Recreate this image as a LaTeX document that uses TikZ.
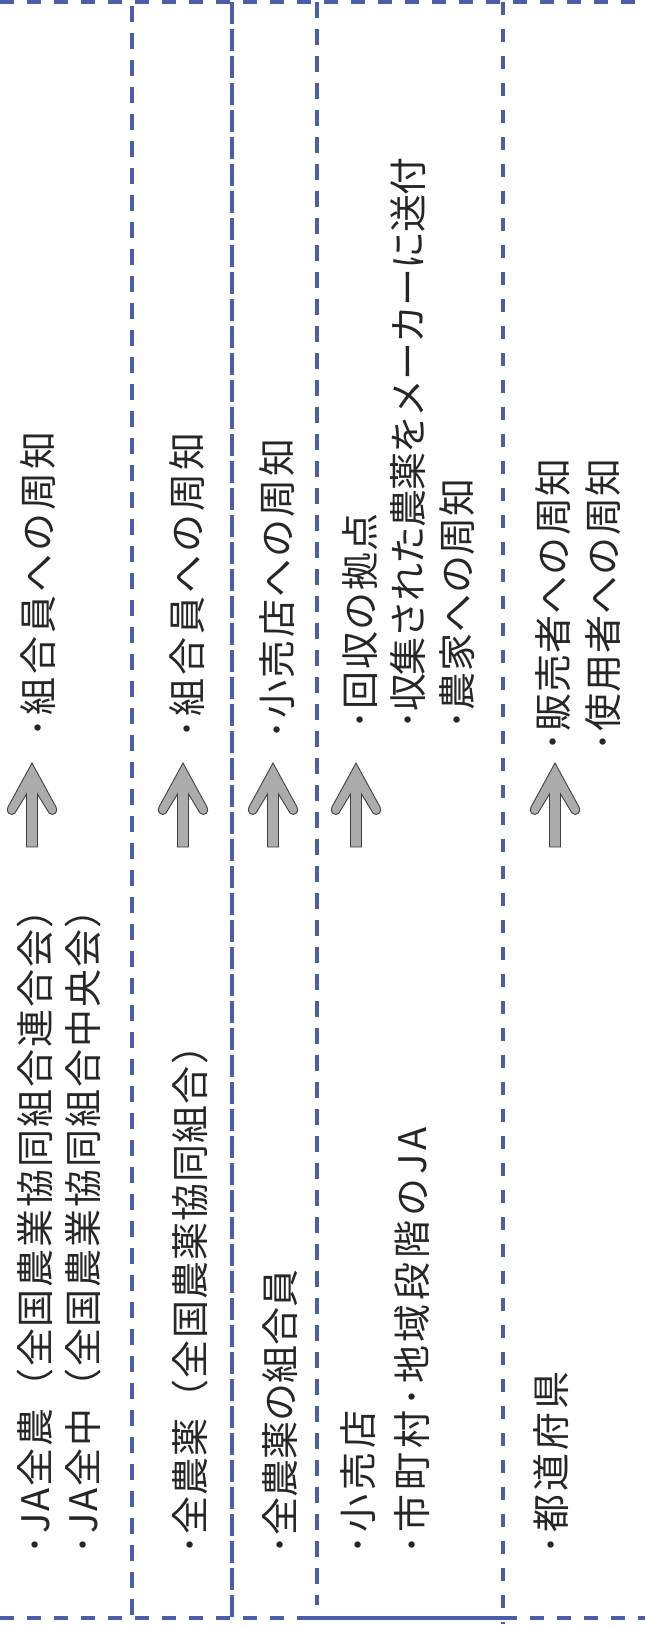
\documentclass[tikz,border=0pt]{standalone}
\usepackage{fontspec}
\setmainfont{Noto Sans CJK JP}
\usetikzlibrary{positioning}
\definecolor{rulebl}{RGB}{74,94,170}
\definecolor{arrowgr}{RGB}{172,172,172}
\tikzset{
  vrule/.style={rulebl, line width=3.5pt, dash pattern=on 16pt off 11pt},
  hrule/.style={rulebl, line width=3.2pt, dash pattern=on 14pt off 13pt},
  txt/.style={rotate=90, anchor=west, inner sep=0pt, text=black!85,
    font=\fontsize{38}{40}\selectfont\addfontfeature{LetterSpace=#1}},
  txt/.default=0,
  pics/uparrow/.style={code={
    \draw[draw=black!75, fill=arrowgr, line width=0.9pt]
      (0,0) -- (24,44) .. controls (27,49) and (21,54) .. (17,50)
      -- (5.5,31) -- (5.5,84) -- (-5.5,84) -- (-5.5,31)
      -- (-17,50) .. controls (-21,54) and (-27,49) .. (-24,44) -- cycle;
  }}
}

\begin{document}
\begin{tikzpicture}[x=1pt, y=-1pt]
    \useasboundingbox (0,0) rectangle (645,1629);

    % table rules
    \draw [hrule] (0,2) -- (645,2);
    \draw [hrule] (0,1618) -- (304,1618);
    \draw [rulebl, line width=3.2pt] (304,1618) -- (503,1618);
    \draw [hrule] (503,1618) -- (645,1618);
    \draw [vrule] (132,6) -- (132,1618);
    \draw [vrule, dash pattern=on 22pt off 5pt] (232,2) -- (232,1622);
    \draw [vrule] (317,2) -- (317,1605);
    \draw [vrule, dash pattern=on 13pt off 14pt] (503,2) -- (503,1624);

    % organisations
    \node [txt=5] (zennoh) at (35,1555) {･JA全農（全国農業協同組合連合会）};
    \node [txt=5] (zenchu) at (83,1555) {･JA全中（全国農業協同組合中央会）};
    \node [txt=3] (zennoyaku) at (190,1555) {･全農薬（全国農薬協同組合）};
    \node [txt] (member) at (280,1555) {･全農薬の組合員};
    \node [txt=10] (shop) at (358,1555) {･小売店};
    \node [txt=10] (city) at (412,1555) {･市町村･地域段階のJA};
    \node [txt=8] (pref) at (551,1555) {･都道府県};

    % tasks
    \node [txt=8] (task1) at (38,738) {･組合員への周知};
    \node [txt=8] (task2) at (187,739) {･組合員への周知};
    \node [txt=6] (task3) at (277,740) {･小売店への周知};
    \node [txt=4] (task4a) at (360,730) {･回収の拠点};
    \node [txt=-3] (task4b) at (408,730) {･収集された農薬をメーカーに送付};
    \node [txt=2] (task4c) at (457,730) {･農家への周知};
    \node [txt=3] (task5a) at (553,752) {･販売者への周知};
    \node [txt=3] (task5b) at (603,752) {･使用者への周知};

    % arrows
    \pic at (32,763) {uparrow};
    \pic at (183,763) {uparrow};
    \pic at (273,763) {uparrow};
    \pic at (356,763) {uparrow};
    \pic at (555,763) {uparrow};
\end{tikzpicture}
\end{document}
